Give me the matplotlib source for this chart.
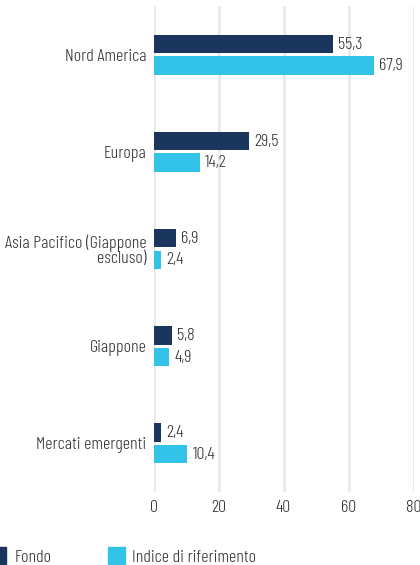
import matplotlib
matplotlib.use("Agg")
import matplotlib.pyplot as plt
import numpy as np
from matplotlib.patches import Rectangle

categories = ["Nord America", "Europa", "Asia Pacifico (Giappone\nescluso)", "Giappone", "Mercati emergenti"]
fondo = [55.3, 29.5, 6.9, 5.8, 2.4]
indice = [67.9, 14.2, 2.4, 4.9, 10.4]
series_names = ["Fondo", "Indice di riferimento"]
xticks = [0, 20, 40, 60, 80]

DARK = "#1b365d"
LIGHT = "#34c3e8"
TXT = "#333333"
plt.rcParams["font.family"] = ["Barlow Condensed", "DejaVu Sans"]
plt.rcParams["font.weight"] = 300

fig = plt.figure(figsize=(4.2, 5.65), dpi=100)
W, H = 420, 565
ax = fig.add_axes([153.5 / W, 1 - 492 / H, (413.5 - 153.5) / W, (492 - 6) / H])

y = np.arange(len(categories))
h = 0.19
off = 0.111
ax.barh(y - off, fondo, height=h, color=DARK, zorder=3)
ax.barh(y + off, indice, height=h, color=LIGHT, zorder=3)

fs = 13
for yi, v in zip(y - off, fondo):
    ax.annotate(f"{v:.1f}".replace(".", ","), (v, yi), xytext=(3.6, -0.5), textcoords="offset points",
                va="center", ha="left", fontsize=fs, color=TXT)
for yi, v in zip(y + off, indice):
    ax.annotate(f"{v:.1f}".replace(".", ","), (v, yi), xytext=(3.6, -0.5), textcoords="offset points",
                va="center", ha="left", fontsize=fs, color=TXT)

ax.set_xlim(0, 80)
ax.set_ylim(len(categories) - 0.5, -0.5)
ax.set_xticks(xticks)
ax.set_xticklabels([str(t) for t in xticks], fontsize=fs, color=TXT)
ax.set_yticks(y)
ax.set_yticklabels(categories, fontsize=fs, color=TXT, linespacing=0.95)
ax.tick_params(axis="both", length=0)
ax.tick_params(axis="y", pad=5)
ax.tick_params(axis="x", pad=5.5)
for s in ax.spines.values():
    s.set_visible(False)
ax.grid(axis="x", color="#e9e9e9", linewidth=2, zorder=0)
ax.set_axisbelow(True)

sq = 17
fig.patches.append(Rectangle((-11 / W, 1 - 563.5 / H), sq / W, sq / H, transform=fig.transFigure,
                             color=DARK, figure=fig))
fig.text(15 / W, 1 - 561.5 / H, series_names[0], fontsize=fs, color=TXT, va="baseline", ha="left")
fig.patches.append(Rectangle((108 / W, 1 - 563.5 / H), sq / W, sq / H, transform=fig.transFigure,
                             color=LIGHT, figure=fig))
fig.text(132 / W, 1 - 561.5 / H, series_names[1], fontsize=fs, color=TXT, va="baseline", ha="left")

fig.savefig("out.png", dpi=100)
